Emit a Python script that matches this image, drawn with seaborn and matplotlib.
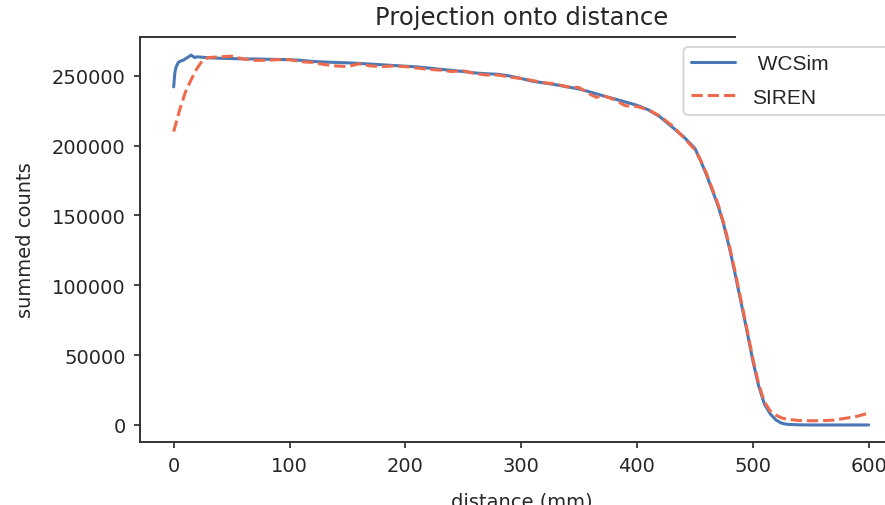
import numpy as np
import pandas as pd
import matplotlib
matplotlib.use("Agg")
import matplotlib.pyplot as plt
import seaborn as sns
from matplotlib.patches import Rectangle, FancyBboxPatch
from matplotlib.transforms import IdentityTransform

# ---- data ----
wcsim_dist = [0, 1, 2, 4, 6, 8, 10, 12, 15, 18, 20, 25, 30, 40, 50, 60, 70, 80, 90,
              100, 110, 120, 130, 140, 150, 160, 170, 180, 190, 200, 210, 220, 230,
              240, 250, 260, 270, 280, 290, 300, 310, 320, 330, 340, 350, 360, 370,
              380, 390, 400, 410, 420, 430, 440, 450, 455, 460, 465, 470, 475, 480,
              485, 490, 495, 500, 505, 510, 515, 520, 525, 530, 540, 550, 560, 570,
              580, 590, 600]
wcsim_counts = [242000, 252000, 256000, 259500, 260500, 261000, 262000, 263000, 264800,
                263000, 263500, 263200, 262800, 262500, 262300, 262000, 262000, 261800,
                261600, 261500, 261000, 260200, 259800, 259500, 259200, 258800, 258300,
                257800, 257300, 256800, 256300, 255500, 254600, 253800, 253000, 252000,
                251400, 251000, 249800, 248000, 246000, 244800, 243500, 242000, 240500,
                238200, 235800, 233500, 231200, 228800, 225500, 220500, 213500, 206500,
                198000, 189000, 179000, 168000, 157000, 143000, 126000, 107000, 87000,
                67000, 46000, 28000, 15000, 8000, 3500, 1200, 400, 100, 0, 0, 0, 0, 0, 0]

siren_dist = [0, 5, 10, 15, 20, 25, 30, 40, 50, 60, 70, 80, 90, 100, 110, 120, 130,
              140, 150, 160, 170, 180, 190, 200, 210, 220, 230, 240, 250, 260, 270,
              280, 290, 300, 310, 320, 330, 340, 350, 360, 365, 370, 380, 390, 400,
              410, 420, 430, 440, 450, 455, 460, 465, 470, 475, 480, 485, 490, 495,
              500, 505, 510, 515, 520, 525, 530, 540, 550, 560, 570, 580, 590, 600]
siren_counts = [210000, 225000, 238000, 247000, 255000, 261000, 263000, 263500, 264000,
                262000, 261000, 261000, 261500, 261500, 260000, 259500, 258000, 257000,
                256500, 258500, 257000, 256500, 257000, 256500, 255500, 254500, 254000,
                253000, 253500, 251500, 250500, 250500, 249000, 248000, 246500, 245000,
                244000, 242000, 241500, 236500, 234500, 236000, 233000, 228500, 228000,
                225500, 221000, 214500, 206000, 197000, 189500, 180000, 169000, 158000,
                144000, 127500, 108500, 88500, 68500, 47500, 29500, 16500, 10000, 7000,
                5000, 4000, 3200, 3000, 3000, 3500, 4800, 6200, 8500]

labels = [" WCSim", "SIREN"]
title = "Projection onto distance"
xlabel = "distance (mm)"
ylabel = "summed counts"

df = pd.concat([
    pd.DataFrame({"distance": wcsim_dist, "counts": wcsim_counts, "source": "WCSim"}),
    pd.DataFrame({"distance": siren_dist, "counts": siren_counts, "source": "SIREN"}),
], ignore_index=True)

sns.set_theme(style="ticks")
plt.rcParams["font.family"] = ["DejaVu Sans"]
plt.rcParams["text.color"] = "#262626"
plt.rcParams["axes.labelcolor"] = "#262626"
plt.rcParams["xtick.color"] = "#262626"
plt.rcParams["ytick.color"] = "#262626"

W, H = 885, 506
fig = plt.figure(figsize=(W / 100, H / 100), dpi=100)
left_px, right_px, top_px, bottom_px = 139.5, 903.4, 38, 443
ax = fig.add_axes([left_px / W, 1 - bottom_px / H,
                   (right_px - left_px) / W, (bottom_px - top_px) / H])

palette = {"WCSim": "#4a78b5", "SIREN": "#ee6a4c"}
sns.lineplot(data=df, x="distance", y="counts", hue="source", style="source",
             palette=palette, dashes={"WCSim": "", "SIREN": (3.7, 1.6)},
             linewidth=2.2, estimator=None, sort=False, legend=False, ax=ax)

ax.set_xlim(-29.5, 630)
ax.set_ylim(-12200, 277700)
ax.set_xticks([0, 100, 200, 300, 400, 500, 600])
ax.set_yticks([0, 50000, 100000, 150000, 200000, 250000])
ax.tick_params(labelsize=14, length=4.5, width=1.2, pad=5.5)
for s in ax.spines.values():
    s.set_linewidth(1.4)
    s.set_color("#333333")
ax.spines["right"].set_visible(False)
ax.set_title(title, fontsize=17.5, pad=9)
ax.set_xlabel(xlabel, fontsize=14, labelpad=12)
ax.set_ylabel(ylabel, fontsize=14, labelpad=12)

line_handles = list(ax.lines[:2])

# white patch covering the top-right corner (as in the reference)
corner = Rectangle((736, H - 47), W - 736 + 30, 60,
                   transform=IdentityTransform(), facecolor="white",
                   edgecolor="none", zorder=5, clip_on=False)
ax.add_artist(corner)

# legend frame reaching past the right edge, like the reference
frame = FancyBboxPatch((683.5, H - 116), 240, 68,
                       boxstyle="round,pad=0,rounding_size=5",
                       transform=IdentityTransform(), facecolor="white",
                       edgecolor="#d0d0d0", linewidth=1.2, zorder=6, clip_on=False)
ax.add_artist(frame)

leg = ax.legend(handles=line_handles, labels=labels, loc="upper left",
                bbox_to_anchor=(683 / W, 1 - 47 / H), bbox_transform=fig.transFigure,
                borderaxespad=0, handlelength=2.1,
                prop={"family": "Liberation Sans", "size": 15},
                frameon=False, labelspacing=0.68)
leg.set_zorder(10)

fig.savefig("out.png", dpi=100)
